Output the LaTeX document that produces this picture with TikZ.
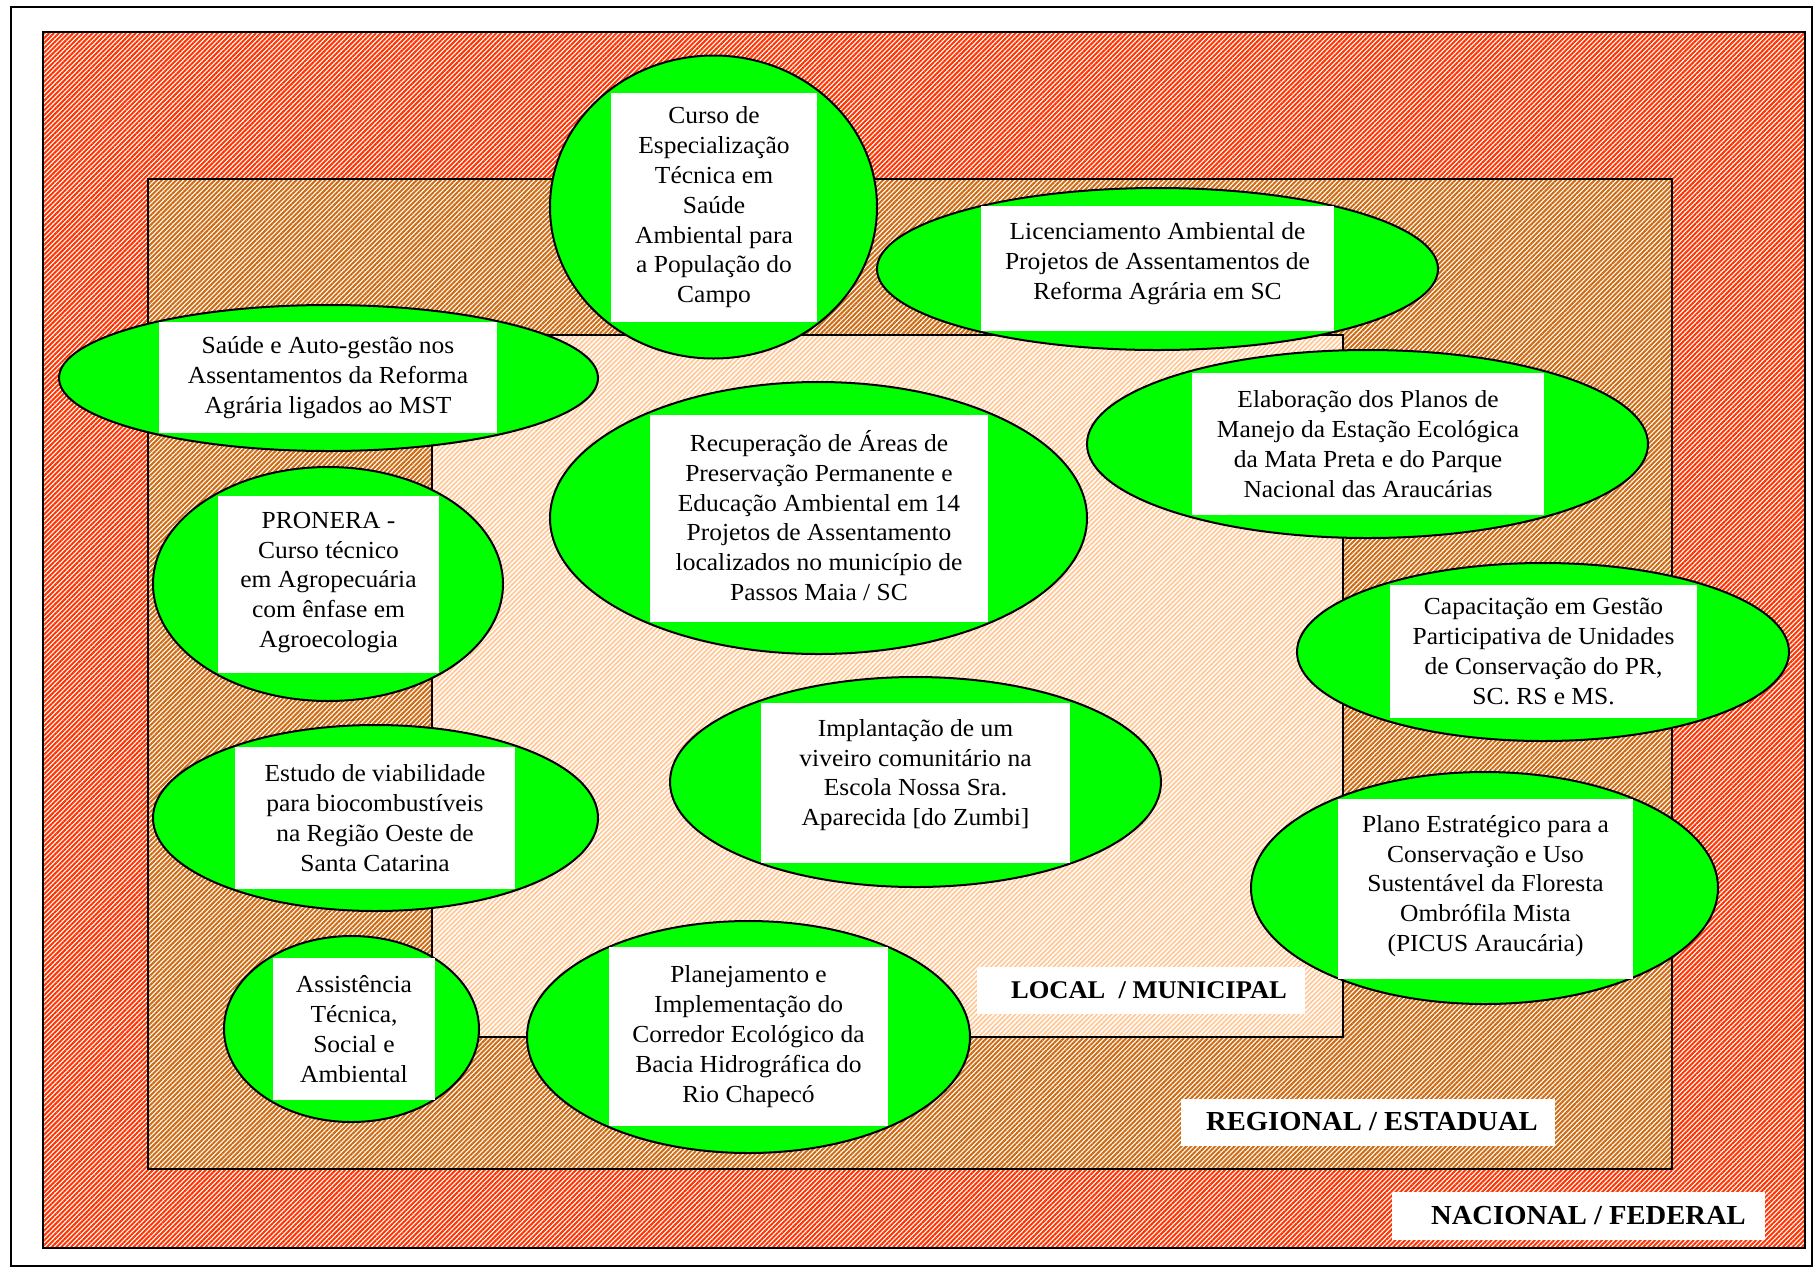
\documentclass[tikz,border=0pt]{standalone}
\usepackage{fontspec}
\setmainfont{Liberation Serif}[FakeStretch=1.04]
\usetikzlibrary{patterns.meta,shapes.geometric}
\definecolor{hred}{HTML}{FF3300}
\definecolor{horange}{HTML}{CF6A10}
\definecolor{hpeach}{HTML}{FFC896}
\definecolor{egreen}{HTML}{00FF00}
\begin{document}
\begin{tikzpicture}[x=1pt,y=-1pt,
  zone/.style={draw=black, line width=1.8pt, preaction={fill=white},
    pattern={Lines[angle=45,distance=3.4pt,line width=2pt]}},
  oval/.style={ellipse, draw=black, line width=2pt, fill=egreen, inner sep=0pt},
  wbox/.style={rectangle, fill=white, inner sep=0pt},
  txt/.style={align=center, inner sep=0pt, font=\fontsize{24.5}{29.8}\selectfont},
  lbl/.style={inner sep=0pt, font=\fontsize{27.5}{33}\selectfont\bfseries}
]
\useasboundingbox (0,0) rectangle (1816,1270);
% frame and zones
\draw[line width=1.8pt] (11,7) rectangle (1812,1266);
\path[zone, pattern color=hred] (43,32) rectangle (1805,1248);
\path[zone, pattern color=horange] (148,179) rectangle (1672,1169);
\path[zone, pattern color=hpeach, pattern={Lines[angle=45,distance=3.4pt,line width=1.7pt]}] (432,335) rectangle (1343,1037);

% 1 Curso
\node[oval, minimum width=327pt, minimum height=303pt] (e1) at (713.5,207) {};
\node[wbox, minimum width=206pt, minimum height=229pt] (b1) at (714,207.5) {};
\node[txt] (t1) at (b1) {Curso de\\Especialização\\Técnica em\\Saúde\\Ambiental para\\a População do\\Campo};

% 2 Licenciamento
\node[oval, minimum width=561pt, minimum height=162pt] (e2) at (1157.5,269) {};
\node[wbox, minimum width=353pt, minimum height=125pt] (b2) at (1157.5,268.5) {};
\node[txt] (t2) at ([yshift=5pt]b2.center) {Licenciamento Ambiental de\\Projetos de Assentamentos de\\Reforma Agrária em SC};

% 3 Saude
\node[oval, minimum width=539pt, minimum height=146pt] (e3) at (328.5,378) {};
\node[wbox, minimum width=338pt, minimum height=111pt] (b3) at (328,377.5) {};
\node[txt] (t3) at (b3) {Saúde e Auto-gestão nos\\Assentamentos da Reforma\\Agrária ligados ao MST};

% 4 Recuperacao
\node[oval, minimum width=537pt, minimum height=272pt] (e4) at (818.5,518) {};
\node[wbox, minimum width=338pt, minimum height=207pt] (b4) at (819,518.5) {};
\node[txt] (t4) at ([yshift=3pt]b4.center) {Recuperação de Áreas de\\Preservação Permanente e\\Educação Ambiental em 14\\Projetos de Assentamento\\localizados no município de\\Passos Maia / SC};

% 5 Elaboracao
\node[oval, minimum width=561pt, minimum height=188pt] (e5) at (1367.5,444) {};
\node[wbox, minimum width=352pt, minimum height=142pt] (b5) at (1368,444) {};
\node[txt] (t5) at (b5) {Elaboração dos Planos de\\Manejo da Estação Ecológica\\da Mata Preta e do Parque\\Nacional das Araucárias};

% 6 PRONERA
\node[oval, minimum width=350pt, minimum height=234pt] (e6) at (328,584) {};
\node[wbox, minimum width=221pt, minimum height=177pt] (b6) at (328.5,584.5) {};
\node[txt] (t6) at ([yshift=2pt]b6.center) {PRONERA -\\Curso técnico\\em Agropecuária\\com ênfase em\\Agroecologia};

% 7 Capacitacao
\node[oval, minimum width=492pt, minimum height=178pt] (e7) at (1543,652) {};
\node[wbox, minimum width=307pt, minimum height=133pt] (b7) at (1543.5,651.5) {};
\node[txt] (t7) at (b7) {Capacitação em Gestão\\Participativa de Unidades\\de Conservação do PR,\\SC. RS e MS.};

% 8 Implantacao
\node[oval, minimum width=491pt, minimum height=210pt] (e8) at (915.5,782) {};
\node[wbox, minimum width=309pt, minimum height=160pt] (b8) at (915.5,783) {};
\node[txt] (t8) at ([yshift=8pt]b8.center) {Implantação de um\\viveiro comunitário na\\Escola Nossa Sra.\\Aparecida [do Zumbi]};

% 9 Estudo
\node[oval, minimum width=445pt, minimum height=186pt] (e9) at (375.5,818) {};
\node[wbox, minimum width=280pt, minimum height=142pt] (b9) at (375,818) {};
\node[txt] (t9) at (b9) {Estudo de viabilidade\\para biocombustíveis\\na Região Oeste de\\Santa Catarina};

% 10 Plano Estrategico
\node[oval, minimum width=467pt, minimum height=232pt] (e10) at (1484.5,888) {};
\node[wbox, minimum width=295pt, minimum height=180pt] (b10) at (1485.5,889) {};
\node[txt] (t10) at ([yshift=3pt]b10.center) {Plano Estratégico para a\\Conservação e Uso\\Sustentável da Floresta\\Ombrófila Mista\\(PICUS Araucária)};

% 11 Assistencia
\node[oval, minimum width=255pt, minimum height=186pt] (e11) at (351.5,1029) {};
\node[wbox, minimum width=162pt, minimum height=142pt] (b11) at (354,1029) {};
\node[txt] (t11) at (b11) {Assistência\\Técnica,\\Social e\\Ambiental};

% 12 Planejamento
\node[oval, minimum width=443pt, minimum height=232pt] (e12) at (748.5,1037) {};
\node[wbox, minimum width=279pt, minimum height=179pt] (b12) at (748.5,1036.5) {};
\node[txt] (t12) at (b12) {Planejamento e\\Implementação do\\Corredor Ecológico da\\Bacia Hidrográfica do\\Rio Chapecó};

% level labels
\node[wbox, minimum width=328pt, minimum height=47pt] (lb1) at (1141,990.5) {};
\node[lbl, font=\fontsize{25.5}{30}\selectfont\bfseries] (l1) at ([xshift=8pt]lb1.center) {LOCAL\ \ / MUNICIPAL};
\node[wbox, minimum width=374pt, minimum height=47pt] (lb2) at (1368,1122) {};
\node[lbl] (l2) at ([xshift=4pt]lb2.center) {REGIONAL / ESTADUAL};
\node[wbox, minimum width=373pt, minimum height=48pt] (lb3) at (1578.5,1216) {};
\node[lbl] (l3) at ([xshift=10pt]lb3.center) {NACIONAL / FEDERAL};
\end{tikzpicture}
\end{document}
